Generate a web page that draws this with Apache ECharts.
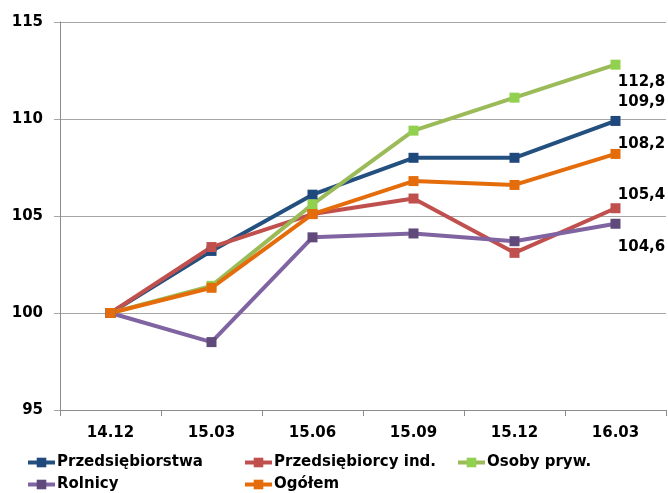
<!DOCTYPE html>
<html>
<head>
<meta charset="utf-8">
<script src="https://cdn.jsdelivr.net/npm/echarts@6/dist/echarts.min.js"></script>
<style>
  html, body { margin: 0; padding: 0; background: #fff; }
  #chart { width: 668px; height: 493px; }
</style>
</head>
<body>
<div id="chart"></div>
<script>
// Quarter labels on the category axis
const quarters = ['14.12', '15.03', '15.06', '15.09', '15.12', '16.03'];

// Index values per group (base 14.12 = 100)
const przedsiebiorstwa = [100, 103.2, 106.1, 108.0, 108.0, 109.9];
const przedsiebiorcyInd = [100, 103.4, 105.1, 105.9, 103.1, 105.4];
const osobyPryw = [100, 101.4, 105.6, 109.4, 111.1, 112.8];
const rolnicy = [100, 98.5, 103.9, 104.1, 103.7, 104.6];
const ogolem = [100, 101.3, 105.1, 106.8, 106.6, 108.2];

const FONT = 'DejaVu Sans';

// Series definitions: name, values, line colour, marker colour, end-label offset
const seriesDefs = [
  { name: 'Przedsiębiorstwa', data: przedsiebiorstwa, line: '#24507F', mark: '#1F497D', off: [26, -19] },
  { name: 'Przedsiębiorcy ind.', data: przedsiebiorcyInd, line: '#C0504D', mark: '#C0504D', off: [26, -13] },
  { name: 'Osoby pryw.', data: osobyPryw, line: '#9BBB59', mark: '#92D050', off: [26, 17] },
  { name: 'Rolnicy', data: rolnicy, line: '#8064A2', mark: '#604A7B', off: [26, 23] },
  { name: 'Ogółem', data: ogolem, line: '#E46C0A', mark: '#E46C0A', off: [26, -10] }
];

const fmt = v => String(v.toFixed(1)).replace('.', ',');

const series = seriesDefs.map(d => ({
  name: d.name,
  type: 'line',
  data: d.data.map((v, i) => {
    if (i !== d.data.length - 1) return v;
    return {
      value: v,
      label: {
        show: true,
        position: 'inside',
        offset: d.off,
        formatter: p => fmt(p.value),
        color: '#000',
        fontFamily: FONT,
        fontWeight: 'bold',
        fontSize: 15
      }
    };
  }),
  symbol: 'rect',
  symbolSize: 10,
  lineStyle: { color: d.line, width: 4 },
  itemStyle: { color: d.mark },
  emphasis: { disabled: true },
  animation: false
}));

// One legend block per entry so the entries sit in fixed columns
const legendPos = [
  { name: 'Przedsiębiorstwa', left: 26, top: 455 },
  { name: 'Przedsiębiorcy ind.', left: 243, top: 455 },
  { name: 'Osoby pryw.', left: 456, top: 455 },
  { name: 'Rolnicy', left: 26, top: 477 },
  { name: 'Ogółem', left: 243, top: 477 }
];

const legends = legendPos.map(l => ({
  data: [l.name],
  left: l.left,
  top: l.top,
  padding: 0,
  itemWidth: 27,
  itemHeight: 12,
  itemGap: 0,
  selectedMode: false,
  lineStyle: { width: 4 },
  textStyle: { fontFamily: FONT, fontWeight: 'bold', fontSize: 15, color: '#000', padding: [0, 0, 0, -3] }
}));

const chart = echarts.init(document.getElementById('chart'), null, { renderer: 'canvas' });
chart.setOption({
  animation: false,
  backgroundColor: '#fff',
  grid: { left: 60, right: 2, top: 22, bottom: 83, containLabel: false },
  legend: legends,
  xAxis: {
    type: 'category',
    data: quarters,
    boundaryGap: true,
    axisLine: { lineStyle: { color: '#8C8C8C', width: 1 } },
    axisTick: { show: true, length: 6, lineStyle: { color: '#8C8C8C' } },
    axisLabel: { margin: 16, color: '#000', fontFamily: FONT, fontWeight: 'bold', fontSize: 15 }
  },
  yAxis: {
    type: 'value',
    min: 95,
    max: 115,
    interval: 5,
    axisLine: { show: true, lineStyle: { color: '#8C8C8C', width: 1 } },
    axisTick: { show: true, length: 6, lineStyle: { color: '#A6A6A6' } },
    splitLine: { lineStyle: { color: '#A6A6A6', width: 1 } },
    axisLabel: { margin: 17, color: '#000', fontFamily: FONT, fontWeight: 'bold', fontSize: 15 }
  },
  series: series
});
</script>
</body>
</html>
